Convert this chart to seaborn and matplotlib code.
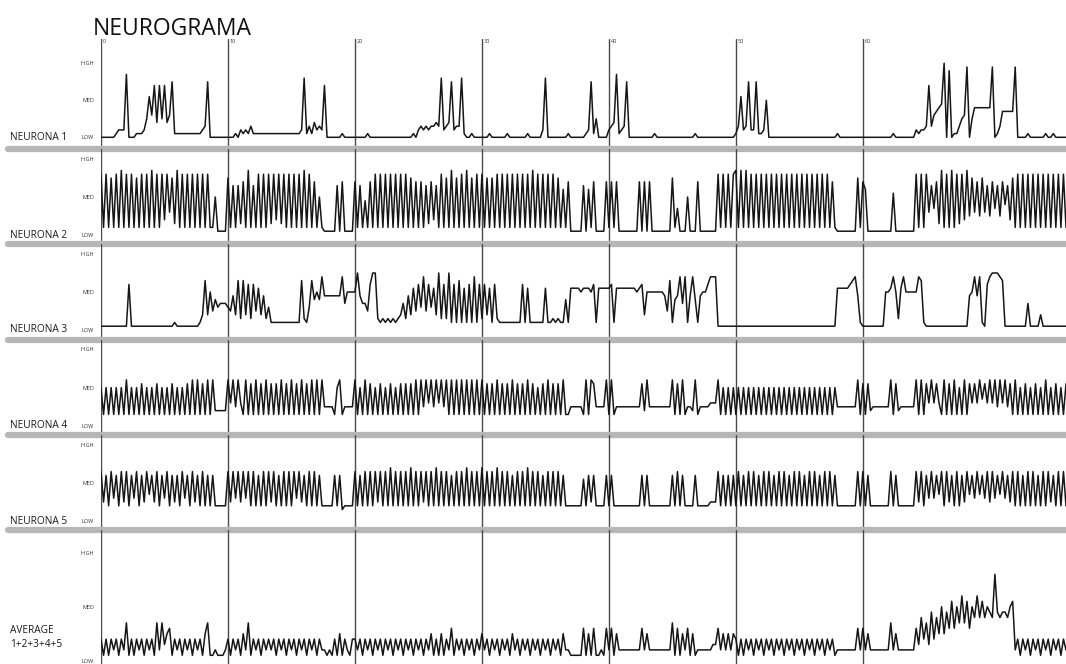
import numpy as np
import pandas as pd
import matplotlib
matplotlib.use("Agg")
import matplotlib.pyplot as plt
from matplotlib.transforms import blended_transform_factory
import seaborn as sns

# --- Datos ---
# Cada carácter = una muestra cada 0.2 unidades de tiempo; valor = índice en NIVELES / 10
# (0 = LOW, 1 = MED, 2 = HIGH). Una cadena por década (0-10, 10-20, ...).
NIVELES = "0123456789ABCDEFGHIJK"
PASO = 0.2

NEURONA_1 = [
    "000000" "1" "222" "H" "000111" "25B6E4E5E46F1" "11111111112" "3" "F" "0000000",
    "000" "10212131" "111111111" "111111111" "2" "G" "1" "314232" "E" "0" "0000010000",
    "00000" "1" "00000000" "000000000" "1" "0" "232323343" "G" "234" "F" "233" "G" "1" "001000",
    "0001000000" "1000000010" "0000" "2" "G" "0" "0000000100" "0000" "1" "2" "F" "1" "5" "0" "000",
    "234H123F0" "0000000001" "0000000000" "0000010000" "0000000000" "0",
    "13B23F22F112A0" "0000000000" "0000000000" "0000001000" "000000",
    "0000000000" "00" "1" "00000000" "2122" "3E36" "789K" "0I01" "1356" "J058" "88888",
    "8J01377777J0" "0001000000" "100100000",
]
NEURONA_2 = [
    "G2G2F2G2H2" "G2G2F2G2G2" "H2G2G4G6F3" "H2G2G2G2G2" "G2G2" "2A1111",
    "F2D2D3E2H2" "D2G2G2G3G4" "G3G2G2G2G2" "H2G2E2A2" "11111" "D1E1111",
    "E2D292E2G2" "G2G2G2G2G2" "G2F2E2E2D3" "E4D2G2F2H2" "F2G2H2F2G2",
    "G2F2F2G2G2" "G2G2G2G2G2" "H2G2G2G2G2" "F2C2" "E" "11111" "D1C2E1111E",
    "2E2E1" "1111111" "E1E1E1" "1111111" "F27111A111E1" "111111" "G2G2G2G",
    "H2H2H2G2G2" "G2G2G2G2G2" "G2G2G2G2G2" "G2G2G2G2E2" "11111111" "F2",
    "EC" "111111111" "1B1" "1111111" "G2G2G6D7E3" "H2G2H2G3G4" "H5F6E5F6D",
    "5E7D5E8D4F" "2G2G2G2G2G" "2G2G2G2G2G" "2",
]
NEURONA_3 = [
    "11111111111" "C" "1111111111" "1111111211" "1111111" "24D4A586777",
    "6594D3D4C3" "C5B49362" "22222222222" "D326D8A8E9" "99999" "9E7AAA",
    "AF9775CFF3" "23232323" "47394B5C6E" "5C6B4F3C3F" "2C2D2B2C2E" "2C",
    "3C4B2C32" "22222222" "C2B2" "22222" "B2" "232322" "82" "BBBB" "ABBBAC" "2BBBB",
    "BC2B" "BBBBBBB" "ABC4" "A" "AAAAA" "A95D289E7E29E829AACEEE" "1111111",
    "1111111111" "1111111111" "1111111111" "1111111111" "BBBBBCDE92",
    "111111111" "AABEA3BEA" "AAAA" "ED2" "1111111111" "1111111" "9AE9E21C",
    "EFFFED1" "11111111" "71" "111" "4" "1111111111",
]
NEURONA_4 = [
    "A3A3A3A3A3" "C3A3A3B3A3" "A3B3A3A3B3" "A3A3B3C3C3" "B3C3" "C44444",
    "C6C5C6" "3" "C3B3C3B3C3" "B3B3C3B3C3" "B3C3B3C3C3" "C" "5555" "3AC3" "5555",
    "C3A3C3B3A3" "B3A3B3A3B3" "B3B3C3C5C6" "C5C6C5C3C3" "C3C3C3C3C3",
    "C3B3B3C3B3" "B3C3B3B3C3" "B3A3B3C3B3" "B3C3" "3" "55555" "3C3CB5555C",
    "3C35" "555555555" "B4C5" "55555555" "C3B3C3554C3" "555566" "6C3A3A3A",
    "3A3A3A3A3A" "3A3A3A3A3A" "3A3A3A3A3A" "3A3A3A3A3A" "55555555" "C3",
    "B3B4" "5555555" "C3B4" "555555" "C3C3B6C6B6" "3C3B3C3A3C" "3B6B6C7B6",
    "C6C5C6C5B3" "C3A3B3A3B3" "A3C3A3B3A3" "B",
]
NEURONA_5 = [
    "D5C4D6C4D5" "D4C6D4C5D7" "C5D4C6D4C5" "C4D6C4D5C4" "D4C4" "C44444",
    "D5D6D5D6D4" "D4C4D4D5D4" "C4D4D4D6D5" "C4D4D4" "C" "44444" "C4C3" "4444",
    "D4C4D4D4D5" "D4D4E4D4D4" "D4E4D4D5D4" "D4E4D4D4C4" "D4D4E4D4D4",
    "E4D4D4E4D4" "D4C4D4D4E4" "D4D4C4D4D4" "D4C4" "4" "44444" "B4C5C4444C",
    "4C4" "4444444444" "C4C4" "44444444" "C4D4C4" "44" "4C4" "444455" "5D4C4C4C",
    "4D4C4D4D4C" "4D4D4C4D4D" "4C4D4D4C4D" "4D4C4D4D4C" "44444444" "D4",
    "D4C4" "4444444" "D4C4" "444444" "D5D4C6D6C7" "D4D5C4D4C5" "D7C6D7C6D",
    "5D6C7D6C5D" "4D4C4D4D4C" "4D4D5C4D4D" "4",
]
PROMEDIO = [
    "4141424142" "71" "4142414241" "7273561" "424142414241" "571" "121112",
    "41424152714241424241" "4241424142414241" "422121" "41514214",
    "4241424142" "4142414241" "4241424142" "5141514261" "4241424142",
    "5241424142" "4152414241" "4241424142" "4152" "211111" "6151611216",
    "2615" "222222222" "6252" "22222222" "71615261512" "222223" "36252525",
    "4141424142" "4142414241" "4241424142" "4142414241" "22222222" "62",
    "6252" "2222222" "7252" "222222" "6384739485" "A596B6A7C7" "B6A8C8B8A",
    "98G98998AB2" "41424142414241424142",
]

SERIES = [NEURONA_1, NEURONA_2, NEURONA_3, NEURONA_4, NEURONA_5, PROMEDIO]
ETIQUETAS = ["NEURONA 1", "NEURONA 2", "NEURONA 3", "NEURONA 4", "NEURONA 5", "AVERAGE\n1+2+3+4+5"]
TICKS_X = [0, 10, 20, 30, 40, 50, 60]
NIVEL_LABELS = ["LOW", "MED", "HIGH"]
TITULO = "NEUROGRAMA"

# --- Layout en píxeles: (arriba, abajo, y de LOW, píxeles por nivel) ---
W, H = 1066, 664
X_IZQ, X_DER = 101, 1066
PANELES = [(39, 149, 137.3, 37), (149, 244, 235, 38), (244, 340, 330, 38),
           (340, 435, 426, 38.4), (435, 530, 521, 38), (530, 664, 660.7, 54)]


def decodificar(decadas):
    xs, ys = [], []
    for d, s in enumerate(decadas):
        for i, c in enumerate(s):
            xs.append(d * 10 + i * PASO)
            ys.append(NIVELES.index(c) / 10)
    return pd.DataFrame({"t": xs, "nivel": ys})


sns.set_style("white")
plt.rcParams["font.family"] = ["Open Sans", "DejaVu Sans"]

fig = plt.figure(figsize=(W / 100, H / 100), dpi=100)

for i, (serie, etiqueta, (top, bottom, low, npx)) in enumerate(zip(SERIES, ETIQUETAS, PANELES)):
    ax = fig.add_axes([X_IZQ / W, 1 - bottom / H, (X_DER - X_IZQ) / W, (bottom - top) / H])
    ax.set_facecolor("none")
    df = decodificar(serie)
    sns.lineplot(data=df, x="t", y="nivel", ax=ax, color="#161616", lw=1.1,
                 estimator=None, sort=False, zorder=3)
    y0, y1 = (low - bottom) / npx, (low - top) / npx
    ax.set_xlim(0, 76)
    ax.set_ylim(y0, y1)
    for xv in TICKS_X:
        ax.axvline(xv, color="#4a4a4a", lw=1.0, zorder=1)
    ax.set_xticks([])
    ax.set_yticks([0, 1, 2], NIVEL_LABELS)
    ax.tick_params(axis="y", direction="in", length=8, width=1, color="#444444",
                   pad=5, labelsize=4, labelcolor="#333333")
    for s in ax.spines.values():
        s.set_visible(False)
    ax.set_xlabel("")
    ax.set_ylabel("")

    trans = blended_transform_factory(fig.transFigure, ax.transData)
    y_lab = 0.43 if i == 5 else 0.0
    ax.text(10 / W, y_lab, etiqueta, transform=trans, ha="left", va="center",
            fontsize=7.3, color="#1a1a1a", linespacing=1.45)

    if i < 5:  # barra gris separadora
        ax.axhline(y0, xmin=(8 - X_IZQ) / (X_DER - X_IZQ), xmax=1, color="#b6b6b6",
                   lw=4.5, solid_capstyle="round", clip_on=False, zorder=2)
    if i == 0:  # etiquetas de tiempo arriba
        for xv in TICKS_X:
            ax.text(xv + 0.15, y1, str(xv), fontsize=4, ha="left", va="top", color="#333333")

fig.text(93 / W, 1 - 35 / H, TITULO, fontsize=16.5, ha="left", va="baseline", color="#111111")

fig.savefig("out.png", dpi=100)
